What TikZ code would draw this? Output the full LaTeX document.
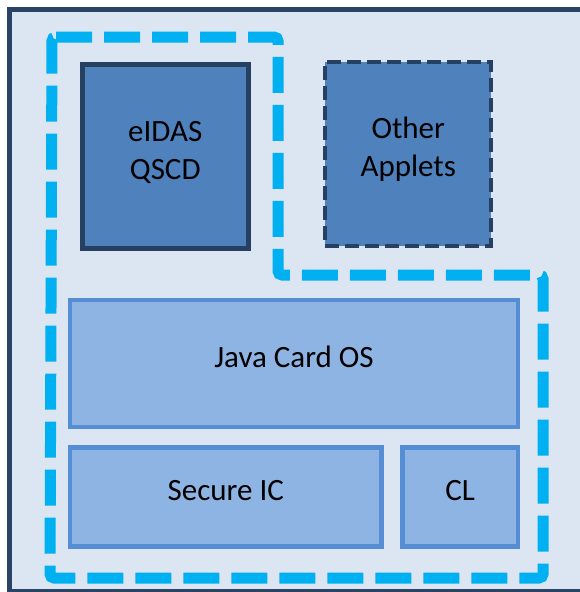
\documentclass[tikz,border=0pt]{standalone}
\usepackage{fontspec}
\setmainfont{Carlito}
\definecolor{cardfill}{HTML}{DCE6F2}
\definecolor{cardline}{HTML}{2A4466}
\definecolor{appletfill}{HTML}{4F81BD}
\definecolor{appletline}{HTML}{254061}
\definecolor{layerfill}{HTML}{8EB4E3}
\definecolor{layerline}{HTML}{558ED5}
\definecolor{toeline}{HTML}{00B0F0}

\begin{document}
\begin{tikzpicture}[x=1pt,y=-1pt,
    every node/.style={font=\fontsize{31}{38}\selectfont, inner sep=0pt},
    applet/.style={fill=appletfill, draw=appletline, line width=4.5pt,
      minimum width=166pt, minimum height=184pt, align=center,
      text height=58pt, text depth=13pt},
    layer/.style={fill=layerfill, draw=layerline, line width=4.5pt,
      minimum height=99pt, text height=20pt, text depth=13pt}]
  \useasboundingbox (0,0) rectangle (580,592);
  % card
  \draw[fill=cardfill, draw=cardline, line width=4.5pt] (9.5,9.5) rectangle (600,591);
  % applets
  \node[applet, line width=5pt] (eidas) at (165.25,156.5) {eIDAS\\QSCD};
  \node[applet, line width=4pt, dash pattern=on 14pt off 6pt] (other) at (408.25,153.5)
    {Other\\Applets};
  % platform
  \node[layer, minimum width=448pt, minimum height=127pt] (jcos) at (294,363.5) {Java Card OS};
  \node[layer, minimum width=311.5pt] (ic) at (225.75,497) {Secure IC};
  \node[layer, minimum width=115.5pt] (cl) at (460.25,497) {CL};
  % TOE
  \draw[toeline, line width=11pt, dash pattern=on 36pt off 12pt, rounded corners=4pt]
    (52,37) -- (278,37) -- (278,275) -- (543,275) -- (543,578) -- (50,578) -- cycle;
\end{tikzpicture}
\end{document}
